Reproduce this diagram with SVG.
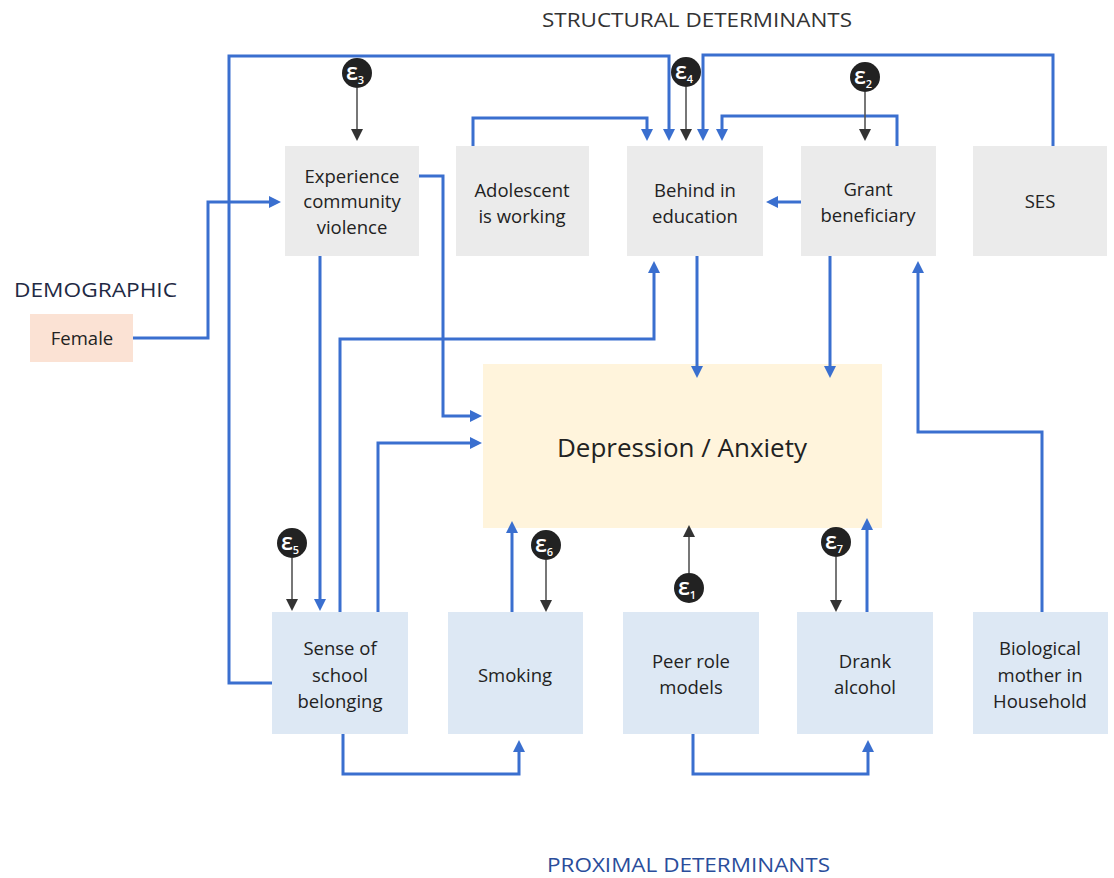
<svg xmlns="http://www.w3.org/2000/svg" width="1114" height="878" viewBox="0 0 1114 878">
<style>
  text { font-family: "Open Sans", "Noto Sans", "Liberation Sans", sans-serif; }
  .lbl { font-size: 18.5px; fill: #222; text-anchor: middle; }
  .gray { fill: #ebebeb; }
  .prox { fill: #dde8f4; }
  .blue { fill: none; stroke: #3a6fcf; stroke-width: 3; marker-end: url(#ab); }
  .dark { fill: none; stroke: #555; stroke-width: 1.6; marker-end: url(#ad); }
  .eps circle { fill: #222; }
  .eps text { fill: #fff; font-size: 23px; font-weight: 600; text-anchor: middle; }
  .eps tspan.sub { font-size: 11px; }
  .hdr { font-size: 19.5px; }
</style>
<defs>
  <marker id="ab" viewBox="0 0 12 12" markerWidth="12" markerHeight="12" refX="8" refY="6" orient="auto" markerUnits="userSpaceOnUse">
    <path d="M0,0 L12,6 L0,12 z" fill="#3a6fcf"/>
  </marker>
  <marker id="ad" viewBox="0 0 12 12" markerWidth="12" markerHeight="12" refX="8" refY="6" orient="auto" markerUnits="userSpaceOnUse">
    <path d="M0,0 L12,6 L0,12 z" fill="#333"/>
  </marker>
</defs>
<rect width="1114" height="878" fill="#fff"/>

<text class="hdr" x="542" y="27" fill="#333" textLength="310" lengthAdjust="spacingAndGlyphs">STRUCTURAL DETERMINANTS</text>
<text class="hdr" x="14" y="297" fill="#1f2a44" textLength="163" lengthAdjust="spacingAndGlyphs">DEMOGRAPHIC</text>
<text class="hdr" x="547" y="872" fill="#2a4d9b" textLength="283" lengthAdjust="spacingAndGlyphs">PROXIMAL DETERMINANTS</text>

<g id="n-experience"><rect class="gray" x="285" y="146" width="134" height="110"/>
  <text class="lbl" x="352" y="183">Experience</text><text class="lbl" x="352" y="208">community</text><text class="lbl" x="352" y="234">violence</text></g>
<g id="n-adolescent"><rect class="gray" x="456" y="146" width="133" height="110"/>
  <text class="lbl" x="522" y="197">Adolescent</text><text class="lbl" x="522" y="223">is working</text></g>
<g id="n-behind"><rect class="gray" x="627" y="146" width="136" height="110"/>
  <text class="lbl" x="695" y="197">Behind in</text><text class="lbl" x="695" y="223">education</text></g>
<g id="n-grant"><rect class="gray" x="801" y="146" width="135" height="110"/>
  <text class="lbl" x="868" y="196">Grant</text><text class="lbl" x="868" y="222">beneficiary</text></g>
<g id="n-ses"><rect class="gray" x="973" y="146" width="134" height="110"/>
  <text class="lbl" x="1040" y="208">SES</text></g>
<g id="n-female"><rect x="30" y="314" width="103" height="48" fill="#fbe2d4"/>
  <text class="lbl" x="82" y="345">Female</text></g>
<g id="n-depression"><rect x="483" y="364" width="399" height="164" fill="#fff4dc"/>
  <text x="682" y="457" font-size="26px" fill="#222" text-anchor="middle">Depression / Anxiety</text></g>
<g id="n-sense"><rect class="prox" x="272" y="612" width="136" height="122"/>
  <text class="lbl" x="340" y="655">Sense of</text><text class="lbl" x="340" y="682">school</text><text class="lbl" x="340" y="708">belonging</text></g>
<g id="n-smoking"><rect class="prox" x="448" y="612" width="135" height="122"/>
  <text class="lbl" x="515" y="682">Smoking</text></g>
<g id="n-peer"><rect class="prox" x="623" y="612" width="136" height="122"/>
  <text class="lbl" x="691" y="668">Peer role</text><text class="lbl" x="691" y="694">models</text></g>
<g id="n-drank"><rect class="prox" x="797" y="612" width="136" height="122"/>
  <text class="lbl" x="865" y="668">Drank</text><text class="lbl" x="865" y="694">alcohol</text></g>
<g id="n-mother"><rect class="prox" x="973" y="612" width="135" height="122"/>
  <text class="lbl" x="1040" y="655">Biological</text><text class="lbl" x="1040" y="682">mother in</text><text class="lbl" x="1040" y="708">Household</text></g>

<g id="connectors">
  <path class="blue" d="M272 683 H229 V56 H669 V137"/>
  <path class="blue" d="M1053 146 V55 H703 V137"/>
  <path class="blue" d="M897 146 V116 H722 V137"/>
  <path class="blue" d="M473 146 V118 H647 V137"/>
  <path class="blue" d="M801 202 H770"/>
  <path class="blue" d="M133 338 H208 V202 H277"/>
  <path class="blue" d="M419 176 H443 V416 H478"/>
  <path class="blue" d="M320 256 V607"/>
  <path class="blue" d="M340 612 V339 H654 V265"/>
  <path class="blue" d="M378 612 V443 H478"/>
  <path class="blue" d="M697 256 V374"/>
  <path class="blue" d="M830 256 V374"/>
  <path class="blue" d="M1042 612 V432 H918 V265"/>
  <path class="blue" d="M512 612 V525"/>
  <path class="blue" d="M867 612 V522"/>
  <path class="blue" d="M343 734 V774 H519 V744"/>
  <path class="blue" d="M693 734 V774 H868 V744"/>
  <path class="dark" d="M357 88 V137"/>
  <path class="dark" d="M686 87 V137"/>
  <path class="dark" d="M865 92 V137"/>
  <path class="dark" d="M292 558 V607"/>
  <path class="dark" d="M546 560 V608"/>
  <path class="dark" d="M836 557 V608"/>
  <path class="dark" d="M689 573 V529"/>
</g>

<g id="e3" class="eps"><circle cx="357" cy="73" r="15"/><text x="355" y="80">ε<tspan class="sub" dy="4">3</tspan></text></g>
<g id="e4" class="eps"><circle cx="686" cy="72" r="15"/><text x="684" y="79">ε<tspan class="sub" dy="4">4</tspan></text></g>
<g id="e2" class="eps"><circle cx="865" cy="77" r="15"/><text x="863" y="84">ε<tspan class="sub" dy="4">2</tspan></text></g>
<g id="e5" class="eps"><circle cx="292" cy="543" r="15"/><text x="290" y="550">ε<tspan class="sub" dy="4">5</tspan></text></g>
<g id="e6" class="eps"><circle cx="546" cy="545" r="15"/><text x="544" y="552">ε<tspan class="sub" dy="4">6</tspan></text></g>
<g id="e1" class="eps"><circle cx="689" cy="588" r="15"/><text x="687" y="595">ε<tspan class="sub" dy="4">1</tspan></text></g>
<g id="e7" class="eps"><circle cx="836" cy="542" r="15"/><text x="834" y="549">ε<tspan class="sub" dy="4">7</tspan></text></g>
</svg>
